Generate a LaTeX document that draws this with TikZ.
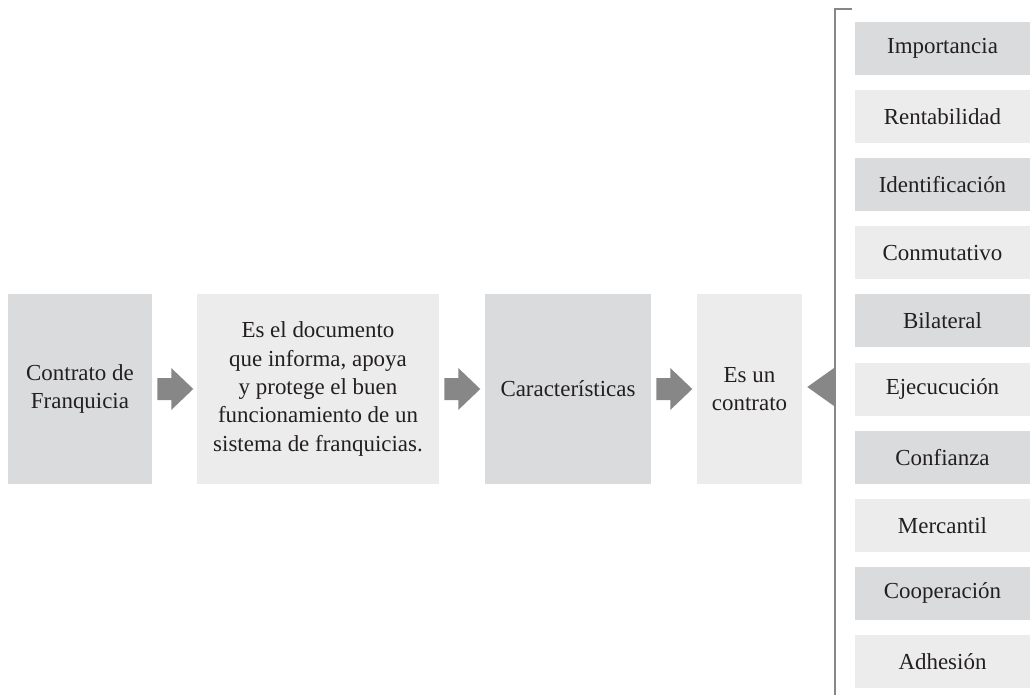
\documentclass[tikz,border=0pt]{standalone}
\usepackage{fontspec}
\setmainfont{Liberation Serif}
\usetikzlibrary{calc}
\definecolor{boxdark}{HTML}{DADBDD}
\definecolor{boxlight}{HTML}{EBECEB}
\definecolor{arrowc}{HTML}{878787}
\definecolor{txt}{HTML}{231F20}
\tikzset{
  box/.style={inner sep=0pt, align=center, text=txt, font=\fontsize{17.2}{21.3}\selectfont},
  dark/.style={box, fill=boxdark},
  light/.style={box, fill=boxlight},
  item/.style={box, minimum width=131.25pt, minimum height=39.75pt},
  blockarrow/.style={fill=arrowc, draw=none},
  bracket/.style={draw=arrowc, line width=1.9pt}
}
\begin{document}
\begin{tikzpicture}[x=0.75pt, y=-0.75pt]
\useasboundingbox (0,0) rectangle (1030,695);
\node[dark, minimum width=108pt, minimum height=142.5pt] (b1) at (80,389) {Contrato de\\Franquicia};
\node[light, minimum width=181.5pt, minimum height=142.5pt] (b2) at (318,389) {Es el documento\\que informa, apoya\\y protege el buen\\funcionamiento de un\\sistema de franquicias.};
\node[dark, minimum width=124.5pt, minimum height=142.5pt] (b3) at (568,389) {Características};
\node[light, minimum width=78.75pt, minimum height=142.5pt] (b4) at (749.5,389) {Es un\\contrato};
\foreach \t [count=\k from 0] in {Importancia,Rentabilidad,Identificación,Conmutativo,Bilateral,Ejecucución,Confianza,Mercantil,Cooperación,Adhesión}{
  \pgfmathsetmacro{\yy}{48.5+68.1*\k}
  \pgfmathtruncatemacro{\odd}{mod(\k,2)}
  \ifnum\odd=0
    \node[item, dark] (r\k) at (942.5,\yy) {\t};
  \else
    \node[item, light] (r\k) at (942.5,\yy) {\t};
  \fi
}
% block arrows
\foreach \a/\b in {b1/b2,b2/b3,b3/b4}{
  \fill[blockarrow] ($(\a.east)+(5,-11)$) -- ++(14,0) -- ++(0,-10) -- ($(\a.east)+(41,0)$) -- ($(\a.east)+(19,21)$) -- ++(0,-10) -- ($(\a.east)+(5,11)$) -- cycle;
}
% bracket
\coordinate (btop) at (835,9);
\coordinate (bbot) at (835,695);
\draw[bracket] (bbot) -- (btop) -- ($(btop)+(17,0)$);
\fill[blockarrow] ($(b4.east)+(5,-2)$) -- ($(btop |- b4.east)+(-1,-21)$) -- ($(btop |- b4.east)+(-1,17)$) -- cycle;
\end{tikzpicture}
\end{document}
